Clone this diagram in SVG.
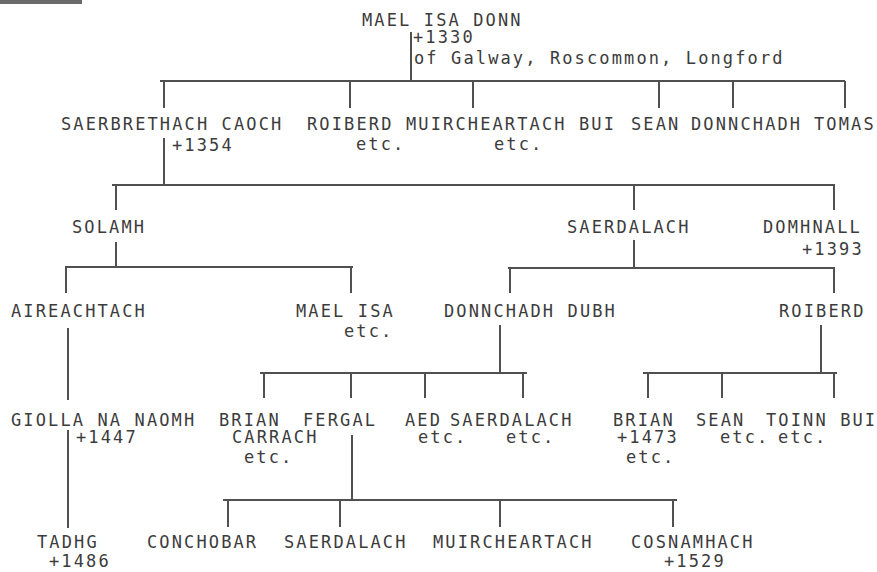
<svg xmlns="http://www.w3.org/2000/svg" width="877" height="572" viewBox="0 0 877 572">
<style>
text{font-family:"DejaVu Sans Mono","Liberation Mono",monospace;font-size:17px;letter-spacing:2.12px;fill:#3c3c3c}
.c path{stroke:#505050;stroke-width:2;fill:none}
</style>
<rect width="877" height="572" fill="#ffffff"/>
<rect x="0" y="0" width="82" height="4" fill="#6a6a6a"/>
<g class="c" id="connectors">
<path d="M411 32V81M160 81H845M164 81V108M350 81V108M473 81V108M659 81V108M733 81V108M845 81V108"/>
<path d="M164 138V185M112 185H835M116 185V210M634 185V210M834 185V210"/>
<path d="M116 242V267M65 267H353M66 267V293M351 267V293"/>
<path d="M634 240V268M508 268H835M510 268V293M834 268V293"/>
<path d="M68 328V400"/>
<path d="M500 325V373M260 373H527M264 373V398M351 373V398M425 373V398M523 373V398"/>
<path d="M821 325V373M643 373H837M648 373V398M722 373V398M834 373V398"/>
<path d="M68 430V528"/>
<path d="M352 435V500M223 500H677M228 500V527M340 500V527M500 500V527M673 500V527"/>
</g>
<g id="mael-isa-donn"><text x="362" y="26">MAEL ISA DONN</text><text x="413" y="43">+1330</text><text x="414" y="64">of Galway, Roscommon, Longford</text></g>
<g id="saerbrethach-caoch"><text x="61" y="130">SAERBRETHACH CAOCH</text><text x="172" y="151">+1354</text></g>
<g id="roiberd-1"><text x="307" y="130">ROIBERD</text><text x="356" y="150">etc.</text></g>
<g id="muircheartach-bui"><text x="406" y="130">MUIRCHEARTACH BUI</text><text x="494" y="150">etc.</text></g>
<g id="sean-1"><text x="631" y="130">SEAN</text></g>
<g id="donnchadh-1"><text x="691" y="130">DONNCHADH</text></g>
<g id="tomas"><text x="814" y="130">TOMAS</text></g>
<g id="solamh"><text x="72" y="233">SOLAMH</text></g>
<g id="saerdalach-1"><text x="567" y="233">SAERDALACH</text></g>
<g id="domhnall"><text x="763" y="233">DOMHNALL</text><text x="802" y="255">+1393</text></g>
<g id="aireachtach"><text x="11" y="317">AIREACHTACH</text></g>
<g id="mael-isa"><text x="296" y="317">MAEL ISA</text><text x="344" y="337">etc.</text></g>
<g id="donnchadh-dubh"><text x="444" y="317">DONNCHADH DUBH</text></g>
<g id="roiberd-2"><text x="779" y="317">ROIBERD</text></g>
<g id="giolla-na-naomh"><text x="11" y="426">GIOLLA NA NAOMH</text><text x="76" y="443">+1447</text></g>
<g id="brian-carrach"><text x="219" y="426">BRIAN</text><text x="232" y="443">CARRACH</text><text x="244" y="463">etc.</text></g>
<g id="fergal"><text x="303" y="426">FERGAL</text></g>
<g id="aed"><text x="405" y="426">AED</text><text x="418" y="443">etc.</text></g>
<g id="saerdalach-2"><text x="450" y="426">SAERDALACH</text><text x="506" y="443">etc.</text></g>
<g id="brian-2"><text x="613" y="426">BRIAN</text><text x="617" y="443">+1473</text><text x="626" y="463">etc.</text></g>
<g id="sean-2"><text x="696" y="426">SEAN</text><text x="720" y="443">etc.</text></g>
<g id="toinn-bui"><text x="766" y="426">TOINN BUI</text><text x="778" y="443">etc.</text></g>
<g id="tadhg"><text x="37" y="548">TADHG</text><text x="49" y="567">+1486</text></g>
<g id="conchobar"><text x="147" y="548">CONCHOBAR</text></g>
<g id="saerdalach-3"><text x="284" y="548">SAERDALACH</text></g>
<g id="muircheartach"><text x="433" y="548">MUIRCHEARTACH</text></g>
<g id="cosnamhach"><text x="631" y="548">COSNAMHACH</text><text x="664" y="567">+1529</text></g>
</svg>
